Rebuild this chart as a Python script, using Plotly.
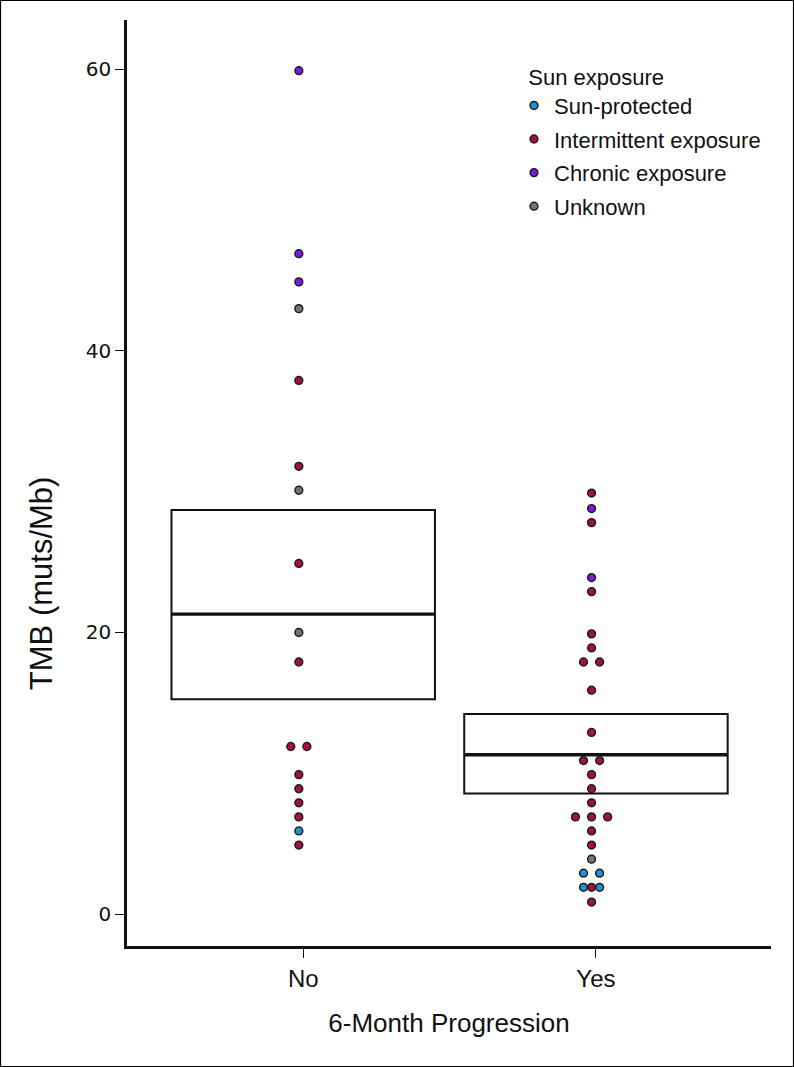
import plotly.graph_objects as go

# ---------------- data ----------------
groups = ["No", "Yes"]
exposure_levels = ["Sun-protected", "Intermittent exposure", "Chronic exposure", "Unknown"]
exposure_colors = ["#2490cf", "#a5113d", "#7a18e8", "#6b7979"]

# No progression group (S=Sun-protected, I=Intermittent, C=Chronic, U=Unknown)
no_tmb = [59.9, 46.9, 44.9, 43.0, 37.9, 31.8, 30.1, 24.9, 20.0, 17.9,
          11.9, 11.9, 9.9, 8.9, 7.9, 6.9, 5.9, 4.9]
no_exposure = ["C", "C", "C", "U", "I", "I", "U", "I", "U", "I",
               "I", "I", "I", "I", "I", "I", "S", "I"]
no_slot = [0, 0, 0, 0, 0, 0, 0, 0, 0, 0,
           -0.5, 0.5, 0, 0, 0, 0, 0, 0]

# Progression group
yes_tmb = [29.9, 28.8, 27.8, 23.9, 22.9, 19.9, 18.9, 17.9, 17.9, 15.9,
           12.9, 10.9, 10.9, 9.9, 8.9, 7.9, 6.9, 6.9, 6.9, 5.9,
           4.9, 3.9, 2.9, 2.9, 1.9, 1.9, 1.9, 0.85]
yes_exposure = ["I", "C", "I", "C", "I", "I", "I", "I", "I", "I",
                "I", "I", "I", "I", "I", "I", "I", "I", "I", "I",
                "I", "U", "S", "S", "S", "I", "S", "I"]
yes_slot = [0, 0, 0, 0, 0, 0, 0, -0.5, 0.5, 0,
            0, -0.5, 0.5, 0, 0, 0, -1, 0, 1, 0,
            0, 0, -0.5, 0.5, -0.5, 0, 0.5, 0]

# crossbar boxes
box_lower = [15.25, 8.57]
box_median = [21.3, 11.31]
box_upper = [28.7, 14.2]

y_ticks = [0, 20, 40, 60]

# ---------------- layout constants ----------------
W, H = 794, 1067
ML, MR, MT, MB = 127, 23, 20, 121
PW, PH = W - ML - MR, H - MT - MB
box_half = 0.45
dot_shift = -0.015
dot_step = 0.055
code_map = {"S": 0, "I": 1, "C": 2, "U": 3}

fig = go.Figure()

group_data = [(no_tmb, no_exposure, no_slot), (yes_tmb, yes_exposure, yes_slot)]

for k, level in enumerate(exposure_levels):
    xs, ys = [], []
    for gi, (vals, exps, slots) in enumerate(group_data):
        for v, e, s in zip(vals, exps, slots):
            if code_map[e] == k:
                xs.append(gi + dot_shift + s * dot_step)
                ys.append(v)
    fig.add_trace(go.Scatter(
        x=xs, y=ys, mode="markers", name=level, legendgroup=level,
        marker=dict(size=7.8, color=exposure_colors[k],
                    line=dict(color="#1c1c1c", width=1.5)),
        hoverinfo="y+name",
    ))

# boxes
for gi in range(len(groups)):
    fig.add_shape(type="rect", xref="x", yref="y",
                  x0=gi - box_half, x1=gi + box_half,
                  y0=box_lower[gi], y1=box_upper[gi],
                  line=dict(color="#111111", width=2), fillcolor="rgba(0,0,0,0)",
                  layer="below")
    fig.add_shape(type="line", xref="x", yref="y",
                  x0=gi - box_half, x1=gi + box_half,
                  y0=box_median[gi], y1=box_median[gi],
                  line=dict(color="#111111", width=3.4), layer="below")

# outer frame
fig.add_shape(type="rect", xref="paper", yref="paper",
              x0=(0.5 - ML) / PW, x1=(W - 0.5 - ML) / PW,
              y0=-(MB - 0.5) / PH, y1=1 + (MT - 0.5) / PH,
              line=dict(color="#000000", width=1.2), fillcolor="rgba(0,0,0,0)")

sans = "Liberation Sans, Arial, Helvetica, sans-serif"

# y-axis title placed as a rotated annotation (sits below the panel centre in the reference)
fig.add_annotation(text="TMB (muts/Mb)", textangle=-90, showarrow=False,
                   xref="paper", yref="y", x=(41 - ML) / PW, y=23.5,
                   xanchor="center", yanchor="middle",
                   font=dict(family=sans, size=31, color="#111111"))

fig.update_layout(
    width=W, height=H,
    margin=dict(l=ML, r=MR, t=MT, b=MB, pad=0),
    paper_bgcolor="white", plot_bgcolor="white",
    showlegend=True,
    legend=dict(
        title=dict(text="\u00a0\u00a0Sun exposure", font=dict(family=sans, size=22, color="#111111")),
        font=dict(family=sans, size=22, color="#111111"),
        x=(514 - ML) / PW, y=(MT + PH - 56) / PH, xanchor="left", yanchor="top",
        bgcolor="rgba(0,0,0,0)", tracegroupgap=2, itemwidth=30,
    ),
    xaxis=dict(
        range=[-0.602, 1.598], tickmode="array", tickvals=[0, 1], ticktext=groups,
        showgrid=False, zeroline=False, showline=True, linecolor="#111111", linewidth=2.5,
        ticks="outside", ticklen=9, tickwidth=1.2, tickcolor="#111111",
        tickfont=dict(family=sans, size=24, color="#111111"),
        title=dict(text="6-Month Progression", font=dict(family=sans, size=26, color="#111111"), standoff=24),
    ),
    yaxis=dict(
        range=[-2.27, 63.5], tickmode="array", tickvals=y_ticks,
        ticktext=[str(t) for t in y_ticks],
        showgrid=False, zeroline=False, showline=True, linecolor="#111111", linewidth=2.5,
        ticks="outside", ticklen=9, tickwidth=1.2, tickcolor="#111111",
        tickfont=dict(family="DejaVu Sans, Verdana, sans-serif", size=20, color="#111111"),
    ),
)

fig.write_html("out.html", config={"displayModeBar": False},
               post_script="document.body.style.margin='0';")
